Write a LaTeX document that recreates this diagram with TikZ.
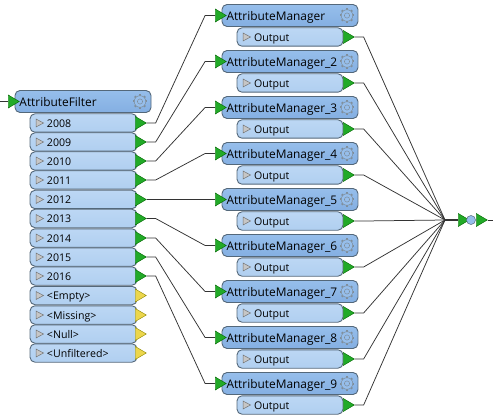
\documentclass[tikz,border=0pt]{standalone}
\usepackage{fontspec}
\setmainfont{Open Sans}
\usepackage{tikz}
\usetikzlibrary{shapes.geometric,calc}
\definecolor{headTop}{RGB}{150,190,235}
\definecolor{headBot}{RGB}{132,175,226}
\definecolor{portTop}{RGB}{188,215,244}
\definecolor{portBot}{RGB}{176,207,240}
\definecolor{edgeBlue}{RGB}{84,104,122}
\definecolor{portGreen}{RGB}{34,170,40}
\definecolor{portYellow}{RGB}{236,214,76}
\tikzset{
  headbox/.style={draw=edgeBlue, line width=0.9pt, top color=headTop, bottom color=headBot, rounded corners=5pt,
    minimum width=136pt, minimum height=22pt, inner xsep=0pt, inner ysep=0pt, text width=136pt, align=left,
    text height=10pt, text depth=0.5pt,
    font=\fontsize{11.9}{13}\selectfont, execute at begin node={\hspace*{4.5pt}},
    path picture={
      \coordinate (gearc) at ([xshift=-11pt]path picture bounding box.east);
      \foreach \a in {0,45,...,315} {\draw[edgeBlue!75, line width=2pt, sharp corners] (gearc) ++(\a:5pt) -- ++(\a:2.4pt);}
      \draw[edgeBlue!75, line width=0.5pt, fill=headTop] (gearc) circle (5.8pt);
      \draw[edgeBlue!75, line width=0.5pt] (gearc) circle (2.6pt);
    }},
  portbox/.style={draw=edgeBlue, line width=0.9pt, top color=portTop, bottom color=portBot, rounded corners=5pt,
    minimum height=18.4pt, inner xsep=0pt, inner ysep=0pt, align=left,
    text height=9pt, text depth=0.5pt,
    font=\fontsize{10.6}{12}\selectfont, execute at begin node={\hspace*{17pt}},
    path picture={
      \draw[draw=gray!90!black, fill=gray!45, line width=0.5pt, sharp corners] ([xshift=6pt,yshift=4pt]path picture bounding box.west)
        -- ++(7.5pt,-4pt) -- ++(-7.5pt,-4pt) -- cycle;
    }},
  filterport/.style={portbox, minimum width=107pt, text width=107pt},
  mgrport/.style={portbox, minimum width=106pt, text width=106pt},
  tri/.style={isosceles triangle, isosceles triangle apex angle=70, isosceles triangle stretches,
    minimum width=13pt, minimum height=11pt, inner sep=0pt, line width=0.4pt},
  gtri/.style={tri, draw=green!40!black, fill=portGreen},
  ytri/.style={tri, draw=olive, fill=portYellow},
  wire/.style={draw=black!80, line width=0.75pt}
}
\begin{document}
\begin{tikzpicture}[x=1pt, y=-1pt]
  \useasboundingbox (0,0) rectangle (493,417);
  % Filter
  \node[headbox] (filter) at (83,101.5) {AttributeFilter};
  \node[gtri] (fin) at (12,101.5) {};
  \node[filterport] (p2008) at (83.5,123) {2008};
  \node[filterport] (p2009) at (83.5,142) {2009};
  \node[filterport] (p2010) at (83.5,161) {2010};
  \node[filterport] (p2011) at (83.5,180) {2011};
  \node[filterport] (p2012) at (83.5,199.5) {2012};
  \node[filterport] (p2013) at (83.5,218.5) {2013};
  \node[filterport] (p2014) at (83.5,238) {2014};
  \node[filterport] (p2015) at (83.5,257) {2015};
  \node[filterport] (p2016) at (83.5,276) {2016};
  \node[filterport] (pempty) at (83.5,295.5) {<Empty>};
  \node[filterport] (pmissing) at (83.5,315) {<Missing>};
  \node[filterport] (pnull) at (83.5,334) {<Null>};
  \node[filterport] (punfilt) at (83.5,353) {<Unfiltered>};
  % Filter output tips
  \node[gtri] (t2008) at (139,123) {};
  \node[gtri] (t2009) at (139,142) {};
  \node[gtri] (t2010) at (139,161) {};
  \node[gtri] (t2011) at (139,180) {};
  \node[gtri] (t2012) at (139,199.5) {};
  \node[gtri] (t2013) at (139,218.5) {};
  \node[gtri] (t2014) at (139,238) {};
  \node[gtri] (t2015) at (139,257) {};
  \node[gtri] (t2016) at (139,276) {};
  \node[ytri] (tempty) at (139,295.5) {};
  \node[ytri] (tmissing) at (139,315) {};
  \node[ytri] (tnull) at (139,334) {};
  \node[ytri] (tunfilt) at (139,353) {};
  % Managers
  \node[headbox] (m1) at (290,15.5) {AttributeManager};
  \node[headbox] (m2) at (290,61.5) {AttributeManager\_2};
  \node[headbox] (m3) at (290,107.5) {AttributeManager\_3};
  \node[headbox] (m4) at (290,153.5) {AttributeManager\_4};
  \node[headbox] (m5) at (290,199.5) {AttributeManager\_5};
  \node[headbox] (m6) at (290,245.5) {AttributeManager\_6};
  \node[headbox] (m7) at (290,291.5) {AttributeManager\_7};
  \node[headbox] (m8) at (290,337.5) {AttributeManager\_8};
  \node[headbox] (m9) at (290,383.5) {AttributeManager\_9};
  \node[mgrport] (o1) at (290,37) {Output};
  \node[mgrport] (o2) at (290,83) {Output};
  \node[mgrport] (o3) at (290,129) {Output};
  \node[mgrport] (o4) at (290,175) {Output};
  \node[mgrport] (o5) at (290,221) {Output};
  \node[mgrport] (o6) at (290,267) {Output};
  \node[mgrport] (o7) at (290,313) {Output};
  \node[mgrport] (o8) at (290,359) {Output};
  \node[mgrport] (o9) at (290,405) {Output};
  % Manager tips
  \node[gtri] (i1) at (219,15.5) {};
  \node[gtri] (i2) at (219,61.5) {};
  \node[gtri] (i3) at (219,107.5) {};
  \node[gtri] (i4) at (219,153.5) {};
  \node[gtri] (i5) at (219,199.5) {};
  \node[gtri] (i6) at (219,245.5) {};
  \node[gtri] (i7) at (219,291.5) {};
  \node[gtri] (i8) at (219,337.5) {};
  \node[gtri] (i9) at (219,383.5) {};
  \node[gtri] (u1) at (347,37) {};
  \node[gtri] (u2) at (347,83) {};
  \node[gtri] (u3) at (347,129) {};
  \node[gtri] (u4) at (347,175) {};
  \node[gtri] (u5) at (347,221) {};
  \node[gtri] (u6) at (347,267) {};
  \node[gtri] (u7) at (347,313) {};
  \node[gtri] (u8) at (347,359) {};
  \node[gtri] (u9) at (347,405) {};
  % Junction
  \coordinate (hub) at (445,220);
  \coordinate (leftend) at (0,101.5);
  \coordinate (rightend) at (493,220);
  \node[gtri] (hubin) at (462,220) {};
  \node[gtri] (hubout) at (480,220) {};
  \node[circle, draw=edgeBlue, fill=headTop, line width=0.5pt, minimum size=9pt, inner sep=0pt] (hubdot) at (471,220) {};
  % Wires
  \draw[wire] (leftend) -- (fin.west);
  \draw[wire] (t2008.apex) -- ++(9,0) -- ($(i1.west)-(10,0)$) -- (i1.west);
  \draw[wire] (t2009.apex) -- ++(9,0) -- ($(i2.west)-(10,0)$) -- (i2.west);
  \draw[wire] (t2010.apex) -- ++(9,0) -- ($(i3.west)-(10,0)$) -- (i3.west);
  \draw[wire] (t2011.apex) -- ++(9,0) -- ($(i4.west)-(10,0)$) -- (i4.west);
  \draw[wire] (t2012.apex) -- ++(9,0) -- ($(i5.west)-(10,0)$) -- (i5.west);
  \draw[wire] (t2013.apex) -- ++(9,0) -- ($(i6.west)-(10,0)$) -- (i6.west);
  \draw[wire] (t2014.apex) -- ++(9,0) -- ($(i7.west)-(10,0)$) -- (i7.west);
  \draw[wire] (t2015.apex) -- ++(9,0) -- ($(i8.west)-(10,0)$) -- (i8.west);
  \draw[wire] (t2016.apex) -- ++(9,0) -- ($(i9.west)-(10,0)$) -- (i9.west);
  \draw[wire] (u1.apex) -- ++(9,0) -- (hub);
  \draw[wire] (u2.apex) -- ++(9,0) -- (hub);
  \draw[wire] (u3.apex) -- ++(9,0) -- (hub);
  \draw[wire] (u4.apex) -- ++(9,0) -- (hub);
  \draw[wire] (u5.apex) -- ++(9,0) -- (hub);
  \draw[wire] (u6.apex) -- ++(9,0) -- (hub);
  \draw[wire] (u7.apex) -- ++(9,0) -- (hub);
  \draw[wire] (u8.apex) -- ++(9,0) -- (hub);
  \draw[wire] (u9.apex) -- ++(9,0) -- (hub);
  \draw[wire, line width=1.6pt] (hub) -- (hubin.west);
  \draw[wire] (hubout.apex) -- (rightend);
\end{tikzpicture}
\end{document}
